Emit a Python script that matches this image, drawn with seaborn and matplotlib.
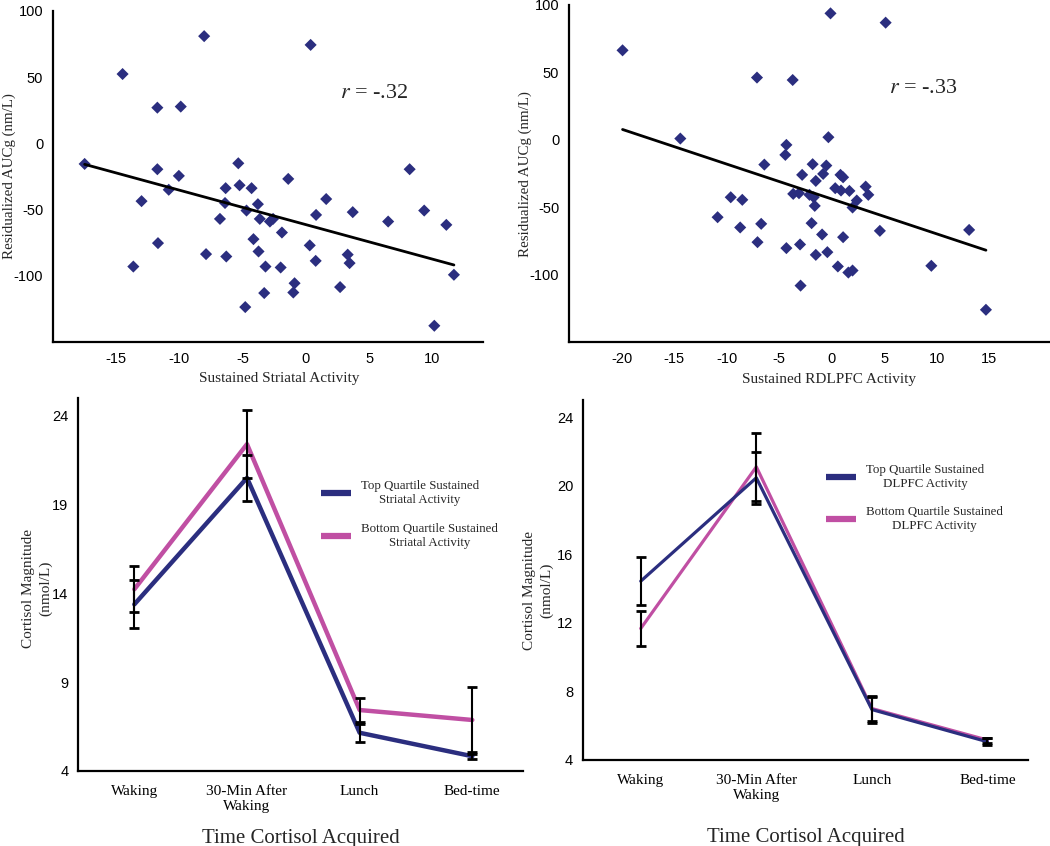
import numpy as np
import pandas as pd
import matplotlib
matplotlib.use("Agg")
import matplotlib.pyplot as plt
import seaborn as sns
from matplotlib.lines import Line2D

# ---- data ----
striatal_x = [-17.5, -14.5, -13.65, -13.0, -11.75, -11.75, -11.7, -10.85, -10.05, -9.9,
              -8.05, -7.9, -6.8, -6.4, -6.35, -6.3, -5.35, -5.25, -4.8, -4.7,
              -4.3, -4.15, -3.8, -3.75, -3.65, -3.3, -3.2, -2.85, -2.6, -2.0,
              -1.9, -1.4, -1.0, -0.9, 0.3, 0.37, 0.77, 0.8, 1.6, 2.7,
              3.3, 3.45, 3.7, 6.5, 8.2, 9.35, 10.15, 11.1, 11.7]
striatal_y = [-15.5, 52.4, -93, -43.6, 27, -19.5, -75.3, -35, -24.5, 27.8,
              81, -83.6, -57, -45, -33.8, -85.4, -15, -31.6, -123.6, -50.7,
              -33.8, -72.3, -45.9, -81.6, -57, -113, -93, -59, -57, -93.7,
              -67.3, -26.8, -112.6, -105.6, -77, 74.4, -88.7, -54, -42, -108.5,
              -84, -90.4, -51.9, -59, -19.5, -50.7, -137.7, -61.5, -99.2]

dlpfc_x = [-19.9, -14.4, -10.85, -9.6, -8.7, -8.5, -7.1, -7.05, -6.7, -6.4,
           -4.4, -4.3, -4.3, -3.7, -3.65, -3.1, -3.0, -2.95, -2.8, -2.1,
           -1.9, -1.8, -1.7, -1.6, -1.5, -1.5, -0.9, -0.8, -0.5, -0.4,
           -0.3, -0.1, 0.35, 0.6, 0.85, 0.9, 1.1, 1.1, 1.6, 1.7,
           2.0, 2.0, 2.4, 3.25, 3.5, 4.6, 5.15, 9.5, 13.1, 14.7]
dlpfc_y = [66.4, 1, -57.3, -42.5, -64.9, -44.4, 46.2, -75.8, -62.2, -18.3,
           -11.1, -3.7, -80.2, 44.4, -40, -39.5, -77.5, -108, -25.9, -40.7,
           -61.7, -18, -42.5, -48.9, -30.4, -85.2, -70.1, -25.2, -19, -83.2,
           2, 93.8, -35.8, -93.8, -25.9, -37.5, -27.7, -72.1, -98.3, -37.8,
           -96.8, -50.1, -44.9, -34.6, -40.7, -67.4, 86.9, -93.3, -66.7, -125.9]

times = ["Waking", "30-Min After\nWaking", "Lunch", "Bed-time"]

str_top = [13.38, 20.5, 6.15, 4.83]
str_top_err = [1.35, 1.3, 0.5, 0.15]
str_bot = [14.23, 22.4, 7.43, 6.87]
str_bot_err = [1.3, 1.9, 0.7, 1.83]

dl_top = [14.43, 20.46, 6.94, 5.06]
dl_top_err = [1.4, 1.5, 0.8, 0.2]
dl_bot = [11.67, 21.1, 7.0, 5.16]
dl_bot_err = [1.0, 2.0, 0.7, 0.15]

navy = "#2b2e7f"
magenta = "#c04fa3"

sns.set_style("white")
plt.rcParams["font.family"] = ["Liberation Sans", "DejaVu Sans"]
plt.rcParams["mathtext.fontset"] = "stix"
plt.rcParams["axes.unicode_minus"] = False
serif = "Liberation Serif"

fig = plt.figure(figsize=(10.5, 8.46), dpi=100)
ax1 = fig.add_axes([0.0505, 0.5957, 0.4095, 0.3913])
ax2 = fig.add_axes([0.5419, 0.5954, 0.4581, 0.3987])
ax3 = fig.add_axes([0.0743, 0.0887, 0.4238, 0.4409])
ax4 = fig.add_axes([0.5552, 0.1017, 0.4238, 0.4255])


def style_axes(ax):
    sns.despine(ax=ax)
    for s in ["left", "bottom"]:
        ax.spines[s].set_linewidth(1.6)
        ax.spines[s].set_color("black")
    ax.tick_params(axis="both", which="major", direction="out", length=5, width=2.5,
                   colors="black", labelsize=10.5, pad=2)


def scatter_panel(ax, x, y, xlab, rtext, xlim, xticks, rpos, xlab_x):
    df = pd.DataFrame({"x": x, "y": y})
    sns.regplot(data=df, x="x", y="y", ax=ax, ci=None, marker="D",
                scatter_kws={"s": 38, "color": navy, "edgecolor": "none", "alpha": 1},
                line_kws={"color": "black", "lw": 2.0})
    ax.set_xlim(*xlim)
    ax.set_ylim(-150, 100)
    ax.set_xticks(xticks)
    ax.set_yticks([-100, -50, 0, 50, 100])
    style_axes(ax)
    ax.set_xlabel(xlab, fontfamily=serif, fontsize=11)
    ax.set_ylabel("Residualized AUCg (nm/L)", fontfamily=serif, fontsize=10.8)
    ax.xaxis.set_label_coords(xlab_x, -0.09)
    ax.text(rpos[0], rpos[1], rtext, fontfamily=serif, fontsize=16, ha="center", va="center")


scatter_panel(ax1, striatal_x, striatal_y, "Sustained Striatal Activity", "$r$ = -.32",
              (-20, 14), [-15, -10, -5, 0, 5, 10], (5.4, 38), 0.526)
ax1.yaxis.set_label_coords(-0.086, 0.5)
scatter_panel(ax2, dlpfc_x, dlpfc_y, "Sustained RDLPFC Activity", "$r$ = -.33",
              (-25, 20.8), [-20, -15, -10, -5, 0, 5, 10, 15], (8.7, 38), 0.54)
ax2.yaxis.set_label_coords(-0.076, 0.5)


def line_panel(ax, top, top_err, bot, bot_err, region, yticks, xlim, lw, leg_anchor, ylab_xy, xlab_y):
    pos = np.arange(len(times))
    df = pd.DataFrame({
        "pos": np.concatenate([pos, pos]),
        "val": top + bot,
        "group": ["top"] * 4 + ["bot"] * 4,
    })
    sns.lineplot(data=df, x="pos", y="val", hue="group", palette={"top": navy, "bot": magenta},
                 hue_order=["bot", "top"], ax=ax, lw=lw, legend=False, sort=False)
    ax.errorbar(pos, bot, yerr=bot_err, fmt="none", ecolor="black", elinewidth=1.5,
                capsize=3.5, capthick=2, zorder=5)
    ax.errorbar(pos, top, yerr=top_err, fmt="none", ecolor="black", elinewidth=1.5,
                capsize=3.5, capthick=2, zorder=5)
    ax.set_xlim(*xlim)
    ax.set_ylim(4, 25)
    ax.set_yticks(yticks)
    style_axes(ax)
    ax.set_xticks(pos)
    ax.set_xticklabels(times, fontfamily=serif, fontsize=11)
    ax.tick_params(axis="x", which="major", length=0, pad=10)
    ax.set_xticks([0.5, 1.5, 2.5], minor=True)
    ax.tick_params(axis="x", which="minor", direction="out", length=6, width=3.5, colors="black")
    ax.set_xlabel("Time Cortisol Acquired", fontfamily=serif, fontsize=15)
    ax.xaxis.set_label_coords(0.5, xlab_y)
    ax.set_ylabel("Cortisol Magnitude\n(nmol/L)", fontfamily=serif, fontsize=11, linespacing=1.35)
    ax.yaxis.set_label_coords(ylab_xy[0], ylab_xy[1])
    handles = [Line2D([], [], color=navy, lw=4.5, solid_capstyle="butt"),
               Line2D([], [], color=magenta, lw=4.5, solid_capstyle="butt")]
    labels = [f"Top Quartile Sustained\n{region} Activity",
              f"Bottom Quartile Sustained\n{region} Activity"]
    leg = ax.legend(handles, labels, frameon=False, loc="upper left", bbox_to_anchor=leg_anchor,
                    handlelength=2.3, labelspacing=1.3, handletextpad=0.8,
                    prop={"family": serif, "size": 9.3})
    for t in leg.get_texts():
        t.set_multialignment("center")


line_panel(ax3, str_top, str_top_err, str_bot, str_bot_err, "Striatal",
           [4, 9, 14, 19, 24], (-0.5, 3.45), 3.2, (0.52, 0.81), (-0.058, 0.49), -0.155)
line_panel(ax4, dl_top, dl_top_err, dl_bot, dl_bot_err, "DLPFC",
           [4, 8, 12, 16, 20, 24], (-0.5, 3.35), 2.3, (0.52, 0.855), (-0.066, 0.47), -0.19)

plt.savefig("out.png", dpi=100)
